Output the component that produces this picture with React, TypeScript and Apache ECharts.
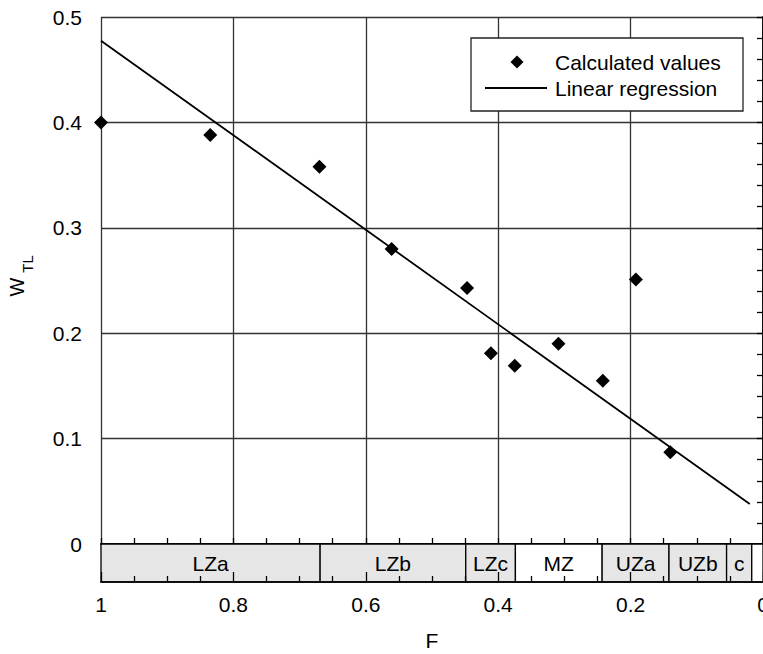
import React, { useEffect, useRef } from "react";
import * as echarts from "echarts";

// Calculated values (F, W_TL)
const fValues = [1, 0.835, 0.67, 0.561, 0.447, 0.411, 0.375, 0.309, 0.242, 0.192, 0.14];
const wValues = [0.4, 0.388, 0.358, 0.28, 0.243, 0.181, 0.169, 0.19, 0.155, 0.251, 0.087];

// Linear regression end points
const regF = [1, 0.02];
const regW = [0.4775, 0.038];

// Zones along F
const zoneNames = ["LZa", "LZb", "LZc", "MZ", "UZa", "UZb", "c", ""];
const zoneStart = [1, 0.669, 0.449, 0.374, 0.243, 0.142, 0.055, 0.017];
const zoneEnd = [0.669, 0.449, 0.374, 0.243, 0.142, 0.055, 0.017, 0];
const zoneShaded = [true, true, true, false, true, true, true, false];

// Legend texts
const legendNames = ["Calculated values", "Linear regression"];

const FONT = '"Liberation Sans", Arial, sans-serif';

export default function App() {
  const ref = useRef<HTMLDivElement>(null);
  useEffect(() => {
    document.body.style.margin = "0";
    const chart = echarts.init(ref.current!, null, { renderer: "svg" });
    const axisLine = { show: true, lineStyle: { color: "#000", width: 1.5 } };
    const tick = (len: number) => ({ inside: true, length: len, lineStyle: { color: "#000", width: 1.3 } });
    const minorTick = (n: number) => ({ show: true, splitNumber: n, length: 6, lineStyle: { color: "#000", width: 1.3 } });
    const option: any = {
      animation: false,
      textStyle: { fontFamily: FONT },
      grid: [
        { left: 101, top: 17, width: 662, height: 527, outerBoundsMode: "none", containLabel: false },
        { left: 101, top: 544, width: 662, height: 38, outerBoundsMode: "none", containLabel: false },
      ],
      xAxis: [
        {
          type: "value", gridIndex: 0, inverse: true, min: 0, max: 1, interval: 0.2,
          position: "bottom",
          axisLine, axisLabel: { show: false },
          axisTick: tick(6),
          minorTick: minorTick(4),
          splitLine: { show: true, lineStyle: { color: "#333", width: 1.3 } },
        },
        {
          type: "value", gridIndex: 0, inverse: true, min: 0, max: 1, interval: 0.2,
          position: "top",
          axisLine, axisLabel: { show: false },
          axisTick: tick(6),
          minorTick: minorTick(4),
          splitLine: { show: false },
        },
        {
          type: "value", gridIndex: 1, inverse: true, min: 0, max: 1, interval: 0.2,
          position: "bottom", z: 5,
          axisLine,
          axisLabel: { show: true, color: "#000", fontSize: 21, fontFamily: FONT, margin: 12 },
          axisTick: tick(10),
          minorTick: minorTick(4),
          splitLine: { show: false },
          name: "F", nameLocation: "middle", nameGap: 48,
          nameTextStyle: { color: "#000", fontSize: 21, fontFamily: FONT },
        },
      ],
      yAxis: [
        {
          type: "value", gridIndex: 0, min: 0, max: 0.5, interval: 0.1, position: "left",
          axisLine,
          axisLabel: { show: true, color: "#000", fontSize: 21, fontFamily: FONT, margin: 19 },
          axisTick: tick(6),
          minorTick: minorTick(5),
          splitLine: { show: true, lineStyle: { color: "#333", width: 1.3 } },
        },
        {
          type: "value", gridIndex: 0, min: 0, max: 0.5, interval: 0.1, position: "right",
          axisLine, axisLabel: { show: false },
          axisTick: tick(6),
          minorTick: minorTick(5),
          splitLine: { show: false },
        },
        { type: "value", gridIndex: 1, min: 0, max: 1, show: false },
      ],
      graphic: [
        {
          type: "text", x: 17, y: 287, rotation: Math.PI / 2,
          style: { text: "W", font: `20px ${FONT}`, fill: "#000", textAlign: "center", textVerticalAlign: "middle" },
        },
        {
          type: "text", x: 27, y: 264, rotation: Math.PI / 2,
          style: { text: "TL", font: `15px ${FONT}`, fill: "#000", textAlign: "center", textVerticalAlign: "middle" },
        },
        {
          type: "group", z: 20,
          children: [
            {
              type: "rect", z: 20,
              shape: { x: 471, y: 38, width: 272, height: 73 },
              style: { fill: "#fff", stroke: "#222", lineWidth: 1.3 },
            },
            {
              type: "polygon", z: 21,
              shape: { points: [[517, 55.5], [523.5, 62], [517, 68.5], [510.5, 62]] },
              style: { fill: "#000" },
            },
            {
              type: "line", z: 21,
              shape: { x1: 485, y1: 88, x2: 547, y2: 88 },
              style: { stroke: "#000", lineWidth: 1.8 },
            },
            {
              type: "text", z: 21, x: 555, y: 62,
              style: { text: legendNames[0], font: `21px ${FONT}`, fill: "#000", textAlign: "left", textVerticalAlign: "middle" },
            },
            {
              type: "text", z: 21, x: 555, y: 88,
              style: { text: legendNames[1], font: `21px ${FONT}`, fill: "#000", textAlign: "left", textVerticalAlign: "middle" },
            },
          ],
        },
      ],
      series: [
        {
          name: legendNames[0], type: "scatter", xAxisIndex: 0, yAxisIndex: 0,
          symbol: "diamond", symbolSize: 14, clip: false,
          itemStyle: { color: "#000", opacity: 1 },
          data: fValues.map((f, i) => [f, wValues[i]]),
          z: 4,
        },
        {
          name: legendNames[1], type: "line", xAxisIndex: 0, yAxisIndex: 0,
          symbol: "none", showSymbol: false,
          lineStyle: { color: "#000", width: 1.8 },
          itemStyle: { color: "#000" },
          data: regF.map((f, i) => [f, regW[i]]),
          z: 3,
        },
        {
          name: "zones", type: "custom", xAxisIndex: 2, yAxisIndex: 2, z: 1,
          data: zoneStart.map((s, i) => [s, zoneEnd[i]]),
          encode: { x: [0, 1] },
          renderItem: (params: any, api: any) => {
            const s = api.value(0);
            const e = api.value(1);
            const p1 = api.coord([s, 1]);
            const p2 = api.coord([e, 0]);
            const x = Math.min(p1[0], p2[0]);
            const w = Math.abs(p2[0] - p1[0]);
            const y = Math.min(p1[1], p2[1]);
            const h = Math.abs(p2[1] - p1[1]);
            const idx = params.dataIndex;
            return {
              type: "group",
              children: [
                {
                  type: "rect",
                  shape: { x, y, width: w, height: h },
                  style: { fill: zoneShaded[idx] ? "#e6e6e6" : "#fff", stroke: "#000", lineWidth: 1.3 },
                },
                {
                  type: "text",
                  style: {
                    text: zoneNames[idx], x: x + w / 2, y: y + h / 2,
                    textAlign: "center", textVerticalAlign: "middle",
                    font: `21px ${FONT}`, fill: "#000",
                  },
                },
              ],
            };
          },
        },
      ],
    };
    chart.setOption(option);
    return () => chart.dispose();
  }, []);
  return <div ref={ref} style={{ width: 763, height: 654 }} />;
}
